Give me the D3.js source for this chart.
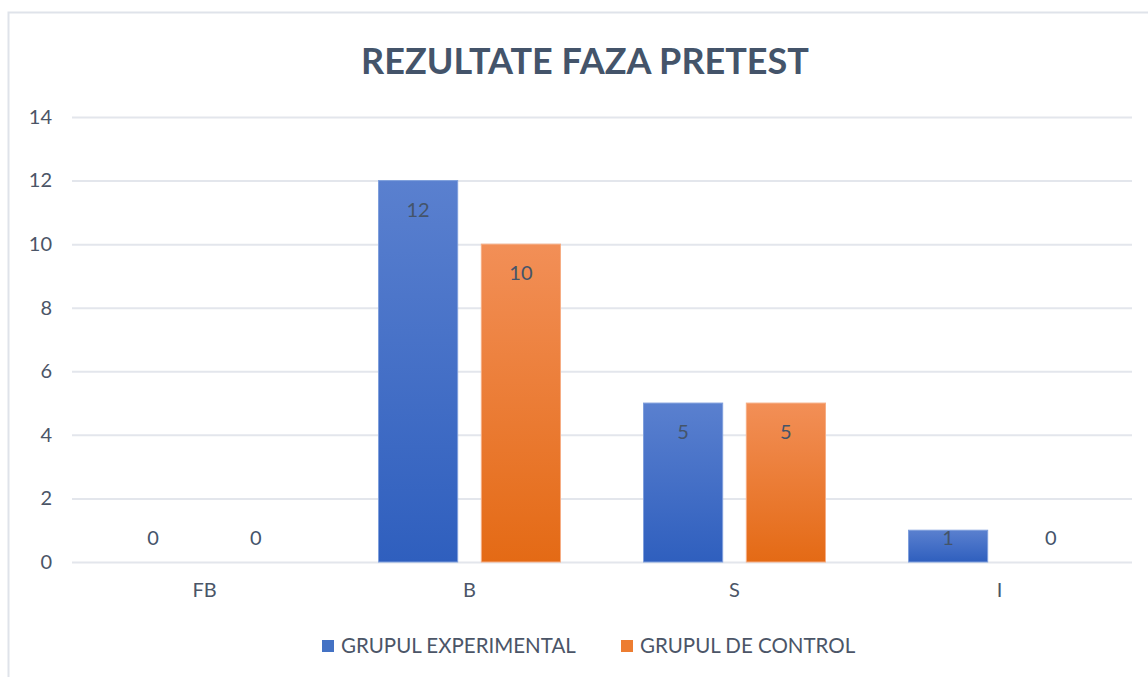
<!DOCTYPE html>
<html>
<head>
    <meta charset="utf-8">
    <title>Rezultate faza pretest</title>
    <script src="https://d3js.org/d3.v7.min.js"></script>
    <style>
        body { margin: 0; background: #fff; }
        text { font-family: Lato, "Open Sans", sans-serif; }
    </style>
</head>
<body>
    <div id="chart"></div>
    <script>
        const categories = ["FB", "B", "S", "I"];
        const series = ["GRUPUL EXPERIMENTAL", "GRUPUL DE CONTROL"];
        const experimental = [0, 12, 5, 1];
        const control = [0, 10, 5, 0];
        const yTicks = [0, 2, 4, 6, 8, 10, 12, 14];

        const W = 1148, H = 677;
        const margin = { top: 117, right: 16, bottom: 115, left: 72 };
        const width = W - margin.left - margin.right;
        const height = H - margin.top - margin.bottom;

        const svg = d3.select("#chart").append("svg")
            .attr("width", W).attr("height", H);

        // gradients for bars
        const defs = svg.append("defs");
        const grads = [["gBlue", "#5a80cf", "#2f5fbe"], ["gOrange", "#f28f57", "#e46a15"]];
        grads.forEach(([id, top, bottom]) => {
            const g = defs.append("linearGradient").attr("id", id)
                .attr("x1", 0).attr("y1", 0).attr("x2", 0).attr("y2", 1);
            g.append("stop").attr("offset", "0%").attr("stop-color", top);
            g.append("stop").attr("offset", "100%").attr("stop-color", bottom);
        });
        const fills = ["url(#gBlue)", "url(#gOrange)"];
        const strokes = ["#7f9fdc", "#f6ad84"];
        const legendColors = ["#4472c4", "#ed7d31"];

        // outer frame
        svg.append("rect")
            .attr("x", 8.5).attr("y", 12.5)
            .attr("width", W).attr("height", H)
            .attr("fill", "none").attr("stroke", "#dfe3ea").attr("stroke-width", 2);

        svg.append("text")
            .attr("x", 585).attr("y", 74)
            .attr("text-anchor", "middle")
            .attr("font-size", 36).attr("font-weight", 700)
            .attr("fill", "#44546a")
            .text("REZULTATE FAZA PRETEST");

        const g = svg.append("g").attr("transform", `translate(${margin.left},${margin.top})`);

        const y = d3.scaleLinear().domain([0, 14]).range([height, 0]);
        const x0 = d3.scaleBand().domain(categories).range([0, width]);
        const groupW = 182;
        const x1 = d3.scaleBand().domain(series).range([0, groupW]).paddingInner(0.23);

        // gridlines
        g.append("g")
            .call(d3.axisLeft(y).tickValues(yTicks).tickSize(-width).tickFormat(""))
            .call(a => a.select(".domain").remove())
            .call(a => a.selectAll("line").attr("stroke", "#e3e6ec").attr("stroke-width", 2));

        // y labels
        g.append("g")
            .call(d3.axisLeft(y).tickValues(yTicks).tickSize(0).tickPadding(20))
            .call(a => a.select(".domain").remove())
            .call(a => a.selectAll("text")
                .attr("font-size", 20).attr("fill", "#4b5567")
                .style("font-family", "Lato, sans-serif"));

        // x labels
        g.append("g")
            .attr("transform", `translate(0,${height})`)
            .call(d3.axisBottom(x0).tickSize(0).tickPadding(21))
            .call(a => a.select(".domain").remove())
            .call(a => a.selectAll("text")
                .attr("font-size", 20).attr("fill", "#4b5567")
                .style("font-family", "Lato, sans-serif"));

        const values = [experimental, control];
        const data = [];
        categories.forEach((c, i) => {
            series.forEach((s, j) => data.push({ c, s, j, v: values[j][i] }));
        });

        const off = (x0.bandwidth() - groupW) / 2;
        const bars = g.append("g");
        bars.selectAll("rect").data(data.filter(d => d.v > 0)).join("rect")
            .attr("x", d => x0(d.c) + off + x1(d.s))
            .attr("y", d => y(d.v))
            .attr("width", x1.bandwidth())
            .attr("height", d => y(0) - y(d.v))
            .attr("fill", d => fills[d.j])
            .attr("stroke", d => strokes[d.j]).attr("stroke-width", 1);

        bars.selectAll("text").data(data).join("text")
            .attr("x", d => x0(d.c) + off + x1(d.s) + x1.bandwidth() / 2)
            .attr("y", d => Math.min(y(d.v) + 29, y(0) - 24))
            .attr("dy", "0.35em")
            .attr("text-anchor", "middle")
            .attr("font-size", 20).attr("fill", "#44546a")
            .text(d => d.v);

        // legend
        const legendX = [322, 621];
        const lg = svg.append("g");
        series.forEach((s, j) => {
            lg.append("rect")
                .attr("x", legendX[j]).attr("y", 640)
                .attr("width", 12).attr("height", 12)
                .attr("fill", legendColors[j]);
            lg.append("text")
                .attr("x", legendX[j] + 19).attr("y", 646)
                .attr("dy", "0.35em")
                .attr("font-size", 20.5).attr("fill", "#4b5567")
                .text(s);
        });
    </script>
</body>
</html>
